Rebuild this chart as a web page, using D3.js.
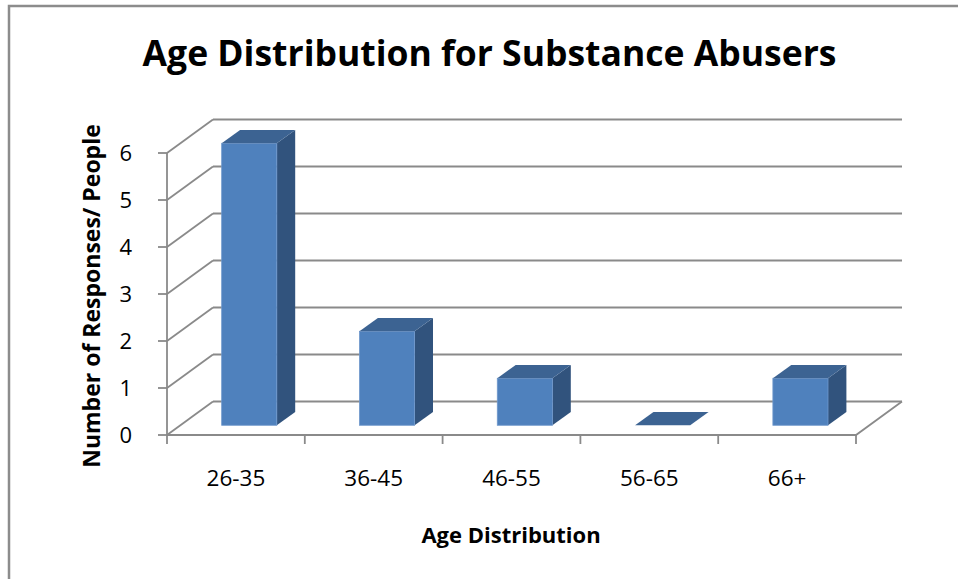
<!DOCTYPE html>
<html>
<head>
<meta charset="utf-8">
<script src="https://cdn.jsdelivr.net/npm/d3@7"></script>
<style>
  html, body { margin: 0; padding: 0; background: #ffffff; }
  svg { display: block; }
  text { font-family: "Open Sans", "Noto Sans", sans-serif; fill: #000; }
</style>
</head>
<body>
<svg id="chart" width="958" height="579"></svg>
<script>
// Chart data
const categories = ["26-35", "36-45", "46-55", "56-65", "66+"];
const counts = [6, 2, 1, 0, 1];
const yTicks = [0, 1, 2, 3, 4, 5, 6];

const chartTitle = "Age Distribution for Substance Abusers";
const xTitle = "Age Distribution";
const yTitle = "Number of Responses/ People";

const svg = d3.select("#chart");
const W = 958, H = 579;

// Front plane of the 3-D box
const x = d3.scaleBand()
  .domain(categories)
  .range([167, 856])
  .paddingInner(0.6)
  .paddingOuter(0.3);

const y = d3.scaleLinear().domain([0, 6]).range([435, 153]);

// Oblique depth vector (front plane -> back wall)
const depthX = 46, depthY = -33.5;
// Bars occupy this slice of the depth
const barNear = 0.29, barFar = 0.69;

const gridColor = "#8a8a8a";
const frontColor = "#4f81bd";
const topColor = "#3c6392";
const sideColor = "#31537d";

// Outer chart border
svg.append("rect")
  .attr("x", 9).attr("y", 6)
  .attr("width", W + 20).attr("height", H + 20)
  .attr("fill", "#fff")
  .attr("stroke", "#8c8c8c")
  .attr("stroke-width", 2.5);

const plot = svg.append("g");

// Back wall gridlines
plot.selectAll("line.grid-back")
  .data(yTicks)
  .join("line")
  .attr("class", "grid-back")
  .attr("x1", x.range()[0] + depthX)
  .attr("x2", x.range()[1] + depthX)
  .attr("y1", d => y(d) + depthY)
  .attr("y2", d => y(d) + depthY)
  .attr("stroke", gridColor)
  .attr("stroke-width", 1.8);

// Side wall gridlines
plot.selectAll("line.grid-side")
  .data(yTicks)
  .join("line")
  .attr("class", "grid-side")
  .attr("x1", x.range()[0])
  .attr("x2", x.range()[0] + depthX)
  .attr("y1", d => y(d))
  .attr("y2", d => y(d) + depthY)
  .attr("stroke", gridColor)
  .attr("stroke-width", 1.8);

// Floor: front and right edges
plot.append("polyline")
  .attr("points", [
    [x.range()[0], y(0)],
    [x.range()[1], y(0)],
    [x.range()[1] + depthX, y(0) + depthY]
  ].map(p => p.join(",")).join(" "))
  .attr("fill", "none")
  .attr("stroke", gridColor)
  .attr("stroke-width", 1.8);

// Vertical value axis
plot.append("line")
  .attr("x1", x.range()[0]).attr("x2", x.range()[0])
  .attr("y1", y(0)).attr("y2", y(6))
  .attr("stroke", gridColor).attr("stroke-width", 1.8);

// Value tick marks
plot.selectAll("line.ytick")
  .data(yTicks)
  .join("line")
  .attr("class", "ytick")
  .attr("x1", x.range()[0] - 9).attr("x2", x.range()[0])
  .attr("y1", d => y(d)).attr("y2", d => y(d))
  .attr("stroke", gridColor).attr("stroke-width", 1.8);

// Category tick marks (boundaries between categories)
const step = x.step();
const bounds = d3.range(categories.length + 1).map(i => x.range()[0] + i * step);
plot.selectAll("line.xtick")
  .data(bounds)
  .join("line")
  .attr("class", "xtick")
  .attr("x1", d => d).attr("x2", d => d)
  .attr("y1", y(0)).attr("y2", y(0) + 9)
  .attr("stroke", gridColor).attr("stroke-width", 1.8);

// 3-D columns
const bars = plot.selectAll("g.bar")
  .data(categories.map((c, i) => ({ c, v: counts[i] })))
  .join("g")
  .attr("class", "bar");

function pt(px, py, f) { return [px + depthX * f, py + depthY * f]; }

bars.each(function (d) {
  const g = d3.select(this);
  const x0 = x(d.c), x1 = x(d.c) + x.bandwidth();
  const yb = y(0), yt = y(d.v);
  const poly = pts => pts.map(p => p.join(",")).join(" ");

  if (d.v > 0) {
    // right side face
    g.append("polygon")
      .attr("points", poly([pt(x1, yt, barNear), pt(x1, yt, barFar), pt(x1, yb, barFar), pt(x1, yb, barNear)]))
      .attr("fill", sideColor);
    // front face
    const f0 = pt(x0, yt, barNear), f1 = pt(x1, yb, barNear);
    g.append("rect")
      .attr("x", f0[0]).attr("y", f0[1])
      .attr("width", f1[0] - f0[0]).attr("height", f1[1] - f0[1])
      .attr("fill", frontColor)
      .attr("stroke", "#6f98cc").attr("stroke-width", 0.8);
  }
  // top face
  g.append("polygon")
    .attr("points", poly([pt(x0, yt, barNear), pt(x0, yt, barFar), pt(x1, yt, barFar), pt(x1, yt, barNear)]))
    .attr("fill", topColor);
});

// Value labels
svg.selectAll("text.ylabel")
  .data(yTicks)
  .join("text")
  .attr("class", "ylabel")
  .attr("x", 132)
  .attr("y", d => y(d))
  .attr("dy", "0.36em")
  .attr("text-anchor", "end")
  .style("font-size", "22px")
  .text(d => d);

// Category labels
svg.selectAll("text.xlabel")
  .data(categories)
  .join("text")
  .attr("class", "xlabel")
  .attr("x", d => x(d) + x.bandwidth() / 2)
  .attr("y", 486)
  .attr("text-anchor", "middle")
  .style("font-size", "22.5px")
  .text(d => d);

// Titles
svg.append("text")
  .attr("x", 489.5).attr("y", 66)
  .attr("text-anchor", "middle")
  .style("font-size", "35.5px").style("font-weight", "700")
  .text(chartTitle);

svg.append("text")
  .attr("x", 511).attr("y", 543)
  .attr("text-anchor", "middle")
  .style("font-size", "22px").style("font-weight", "700")
  .text(xTitle);

svg.append("text")
  .attr("transform", "translate(100,296) rotate(-90)")
  .attr("text-anchor", "middle")
  .style("font-size", "23px").style("font-weight", "700")
  .text(yTitle);
</script>
</body>
</html>
